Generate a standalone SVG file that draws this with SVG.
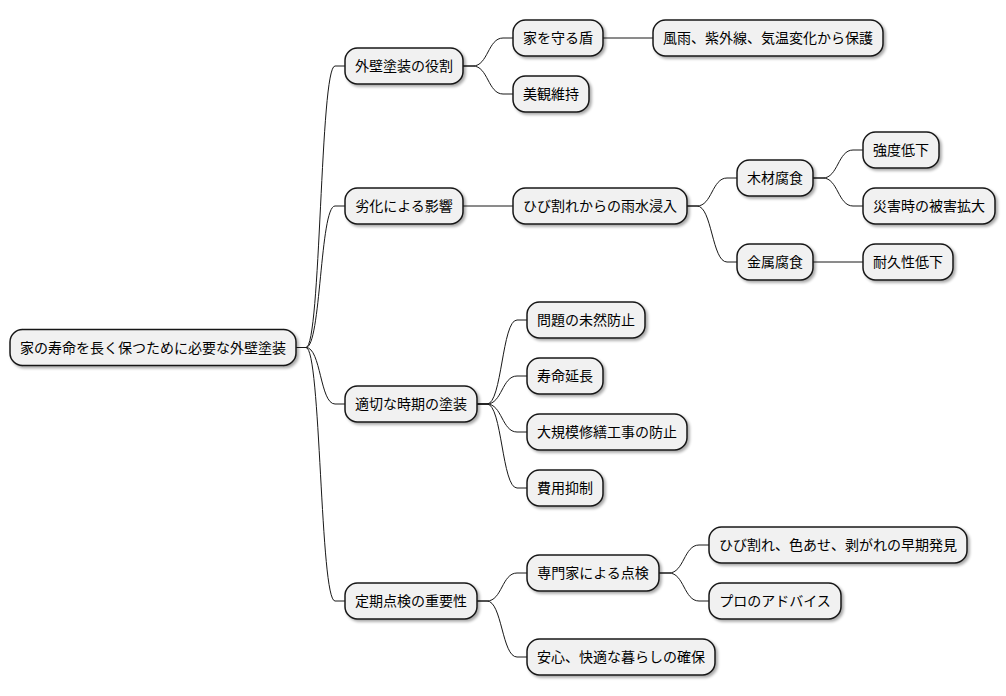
<svg xmlns="http://www.w3.org/2000/svg" width="1006" height="696" viewBox="0 0 1006 696">
<defs>
<filter id="sh" x="-10%" y="-20%" width="130%" height="160%">
<feGaussianBlur in="SourceAlpha" stdDeviation="1.5"/>
<feOffset dx="2" dy="2" result="b"/>
<feComponentTransfer><feFuncA type="linear" slope="0.35"/></feComponentTransfer>
<feMerge><feMergeNode/><feMergeNode in="SourceGraphic"/></feMerge>
</filter>
</defs>
<style>
.box{fill:#F1F1F1;stroke:#181818;stroke-width:1.5;filter:url(#sh)}
.t{font-family:"Noto Sans CJK JP","Noto Sans",sans-serif;font-size:14px;fill:#000;text-anchor:middle}
.c{fill:none;stroke:#181818;stroke-width:1}
</style>
<rect width="1006" height="696" fill="#FFFFFF"/>
<g id="connectors">
<path class="c" d="M296,347.5 L306,347.5 C321,347.5 320,66 335,66 L345,66"/>
<path class="c" d="M296,347.5 L306,347.5 C321,347.5 320,206 335,206 L345,206"/>
<path class="c" d="M296,347.5 L306,347.5 C321,347.5 320,404 335,404 L345,404"/>
<path class="c" d="M296,347.5 L306,347.5 C321,347.5 320,601 335,601 L345,601"/>
<path class="c" d="M463,66 L473,66 C488,66 488,38 503,38 L513,38"/>
<path class="c" d="M463,66 L473,66 C488,66 488,94 503,94 L513,94"/>
<path class="c" d="M603,38 L653,38"/>
<path class="c" d="M463,206 L513,206"/>
<path class="c" d="M687,206 L697,206 C712,206 712,178 727,178 L737,178"/>
<path class="c" d="M687,206 L697,206 C712,206 712,262 727,262 L737,262"/>
<path class="c" d="M813,178 L823,178 C838,178 838,150 853,150 L863,150"/>
<path class="c" d="M813,178 L823,178 C838,178 838,206 853,206 L863,206"/>
<path class="c" d="M813,262 L863,262"/>
<path class="c" d="M477,404 L487,404 C502,404 502,320 517,320 L527,320"/>
<path class="c" d="M477,404 L487,404 C502,404 502,376 517,376 L527,376"/>
<path class="c" d="M477,404 L487,404 C502,404 502,432 517,432 L527,432"/>
<path class="c" d="M477,404 L487,404 C502,404 502,488 517,488 L527,488"/>
<path class="c" d="M477,601 L487,601 C502,601 502,573 517,573 L527,573"/>
<path class="c" d="M477,601 L487,601 C502,601 502,657 517,657 L527,657"/>
<path class="c" d="M659,573 L669,573 C684,573 684,545 699,545 L709,545"/>
<path class="c" d="M659,573 L669,573 C684,573 684,601 699,601 L709,601"/>
</g>
<g id="root"><rect class="box" x="10" y="329.5" width="286" height="36" rx="12.5"/><text class="t" x="153" y="352.5">家の寿命を長く保つために必要な外壁塗装</text></g>
<g id="n1"><rect class="box" x="345" y="48" width="118" height="36" rx="12.5"/><text class="t" x="404" y="71">外壁塗装の役割</text></g>
<g id="n1a"><rect class="box" x="513" y="20" width="90" height="36" rx="12.5"/><text class="t" x="558" y="43">家を守る盾</text></g>
<g id="n1a1"><rect class="box" x="653" y="20" width="230" height="36" rx="12.5"/><text class="t" x="768" y="43">風雨、紫外線、気温変化から保護</text></g>
<g id="n1b"><rect class="box" x="513" y="76" width="76" height="36" rx="12.5"/><text class="t" x="551" y="99">美観維持</text></g>
<g id="n2"><rect class="box" x="345" y="188" width="118" height="36" rx="12.5"/><text class="t" x="404" y="211">劣化による影響</text></g>
<g id="n2a"><rect class="box" x="513" y="188" width="174" height="36" rx="12.5"/><text class="t" x="600" y="211">ひび割れからの雨水浸入</text></g>
<g id="n2a1"><rect class="box" x="737" y="160" width="76" height="36" rx="12.5"/><text class="t" x="775" y="183">木材腐食</text></g>
<g id="n2a1a"><rect class="box" x="863" y="132" width="76" height="36" rx="12.5"/><text class="t" x="901" y="155">強度低下</text></g>
<g id="n2a1b"><rect class="box" x="863" y="188" width="132" height="36" rx="12.5"/><text class="t" x="929" y="211">災害時の被害拡大</text></g>
<g id="n2a2"><rect class="box" x="737" y="244" width="76" height="36" rx="12.5"/><text class="t" x="775" y="267">金属腐食</text></g>
<g id="n2a2a"><rect class="box" x="863" y="244" width="90" height="36" rx="12.5"/><text class="t" x="908" y="267">耐久性低下</text></g>
<g id="n3"><rect class="box" x="345" y="386" width="132" height="36" rx="12.5"/><text class="t" x="411" y="409">適切な時期の塗装</text></g>
<g id="n3a"><rect class="box" x="527" y="302" width="118" height="36" rx="12.5"/><text class="t" x="586" y="325">問題の未然防止</text></g>
<g id="n3b"><rect class="box" x="527" y="358" width="76" height="36" rx="12.5"/><text class="t" x="565" y="381">寿命延長</text></g>
<g id="n3c"><rect class="box" x="527" y="414" width="160" height="36" rx="12.5"/><text class="t" x="607" y="437">大規模修繕工事の防止</text></g>
<g id="n3d"><rect class="box" x="527" y="470" width="76" height="36" rx="12.5"/><text class="t" x="565" y="493">費用抑制</text></g>
<g id="n4"><rect class="box" x="345" y="583" width="132" height="36" rx="12.5"/><text class="t" x="411" y="606">定期点検の重要性</text></g>
<g id="n4a"><rect class="box" x="527" y="555" width="132" height="36" rx="12.5"/><text class="t" x="593" y="578">専門家による点検</text></g>
<g id="n4a1"><rect class="box" x="709" y="527" width="258" height="36" rx="12.5"/><text class="t" x="838" y="550">ひび割れ、色あせ、剥がれの早期発見</text></g>
<g id="n4a2"><rect class="box" x="709" y="583" width="132" height="36" rx="12.5"/><text class="t" x="775" y="606">プロのアドバイス</text></g>
<g id="n4b"><rect class="box" x="527" y="639" width="188" height="36" rx="12.5"/><text class="t" x="621" y="662">安心、快適な暮らしの確保</text></g>
</svg>
